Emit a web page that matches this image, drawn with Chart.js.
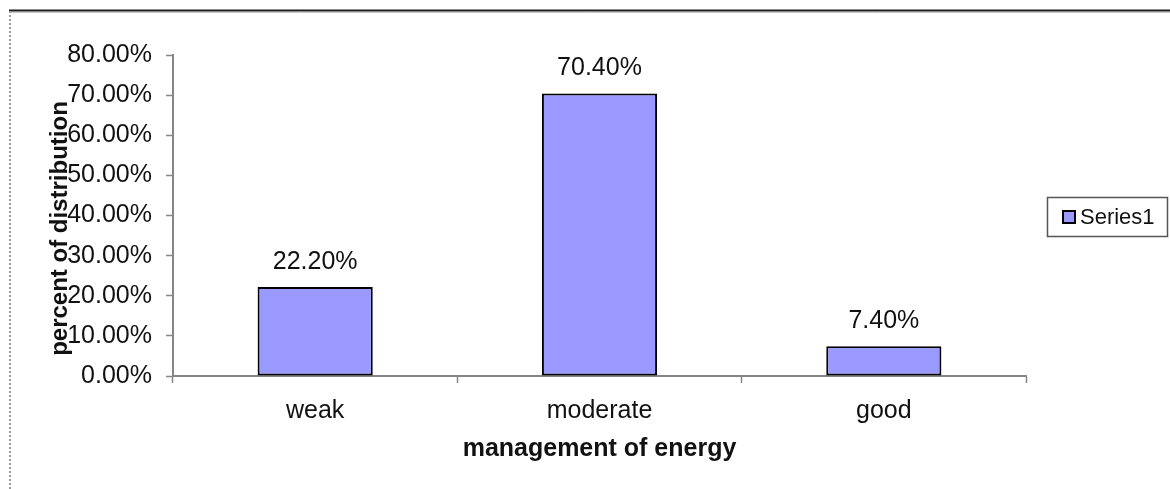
<!DOCTYPE html>
<html>
<head>
<meta charset="utf-8">
<script src="https://cdn.jsdelivr.net/npm/chart.js@4/dist/chart.umd.min.js"></script>
<style>
  html, body { margin: 0; padding: 0; background: #ffffff; }
  #wrap { position: relative; width: 1170px; height: 489px; }
  canvas { display: block; }
</style>
</head>
<body>
<div id="wrap"><canvas id="c" width="1170" height="489"></canvas></div>
<script>
// Distribution of energy-management levels
const categories = ['weak', 'moderate', 'good'];
const seriesName = 'Series1';
const percentValues = [22.2, 70.4, 7.4];
const yTickStep = 10;
const yMax = 80;

const FONT = 'Arial, "Liberation Sans", Helvetica, sans-serif';
const TEXT = '#111111';
const AXIS = '#868686';
const BAR_FILL = '#9999FF';

const fmtPct = v => Number(v).toFixed(2) + '%';

// Page frame: solid rule along the top, dotted rule down the left side
const framePlugin = {
  id: 'frame',
  beforeDraw(chart) {
    const ctx = chart.ctx;
    ctx.save();
    ctx.fillStyle = '#ffffff';
    ctx.fillRect(0, 0, chart.width, chart.height);
    ctx.strokeStyle = '#1a1a1a';
    ctx.lineWidth = 2;
    ctx.beginPath();
    ctx.moveTo(9, 10.5);
    ctx.lineTo(chart.width, 10.5);
    ctx.stroke();
    ctx.strokeStyle = '#c4c4c4';
    ctx.lineWidth = 1;
    ctx.beginPath();
    ctx.moveTo(9, 12.5);
    ctx.lineTo(chart.width, 12.5);
    ctx.stroke();
    ctx.strokeStyle = '#9a9a9a';
    ctx.lineWidth = 2;
    ctx.setLineDash([2, 2]);
    ctx.beginPath();
    ctx.moveTo(10, 11);
    ctx.lineTo(10, chart.height);
    ctx.stroke();
    ctx.restore();
  }
};

// Value labels above each bar
const valueLabelPlugin = {
  id: 'valueLabels',
  afterDatasetsDraw(chart) {
    const ctx = chart.ctx;
    const meta = chart.getDatasetMeta(0);
    const data = chart.data.datasets[0].data;
    ctx.save();
    ctx.font = '25px ' + FONT;
    ctx.fillStyle = TEXT;
    ctx.textAlign = 'center';
    ctx.textBaseline = 'middle';
    meta.data.forEach((bar, i) => {
      ctx.fillText(Number(data[i]).toFixed(2) + '%', bar.x, bar.y - 25);
    });
    ctx.restore();
  }
};

// Rotated y-axis title and boxed legend to the right of the plot
const sideTextPlugin = {
  id: 'sideText',
  afterDraw(chart) {
    const ctx = chart.ctx;
    const area = chart.chartArea;
    ctx.save();
    // y-axis title
    ctx.font = 'bold 24px ' + FONT;
    ctx.fillStyle = TEXT;
    ctx.textAlign = 'center';
    ctx.textBaseline = 'middle';
    ctx.translate(60, (area.top + area.bottom) / 2 + 13);
    ctx.rotate(-Math.PI / 2);
    ctx.fillText('percent of distribution', 0, 0);
    ctx.restore();

    // legend
    const ds = chart.data.datasets[0];
    const bx = area.right + 21, by = 197, bw = 120, bh = 39;
    ctx.save();
    ctx.fillStyle = '#ffffff';
    ctx.fillRect(bx, by, bw, bh);
    ctx.strokeStyle = '#555555';
    ctx.lineWidth = 1.5;
    ctx.strokeRect(bx + 0.5, by + 0.5, bw, bh);
    ctx.fillStyle = ds.backgroundColor;
    ctx.fillRect(bx + 16, by + 14, 12, 12);
    ctx.strokeStyle = '#000000';
    ctx.lineWidth = 2;
    ctx.strokeRect(bx + 16, by + 14, 12, 12);
    ctx.font = '22px ' + FONT;
    ctx.fillStyle = TEXT;
    ctx.textAlign = 'left';
    ctx.textBaseline = 'middle';
    ctx.fillText(ds.label, bx + 33, by + 21);
    ctx.restore();
  }
};

new Chart(document.getElementById('c'), {
  type: 'bar',
  data: {
    labels: categories,
    datasets: [{
      label: seriesName,
      data: percentValues,
      backgroundColor: BAR_FILL,
      borderColor: '#000000',
      borderWidth: 2,
      borderSkipped: false,
      categoryPercentage: 1.0,
      barPercentage: 0.405
    }]
  },
  options: {
    responsive: false,
    animation: false,
    devicePixelRatio: 1,
    layout: { padding: { top: 55, right: 144, bottom: 0, left: 0 } },
    plugins: {
      legend: { display: false },
      tooltip: { enabled: false },
      title: { display: false }
    },
    scales: {
      x: {
        grid: {
          display: true,
          offset: true,
          drawOnChartArea: false,
          drawTicks: true,
          tickLength: 7,
          tickWidth: 1.5,
          tickColor: AXIS
        },
        border: { display: true, color: AXIS, width: 2 },
        ticks: {
          color: TEXT,
          font: { family: FONT, size: 25 },
          padding: 13,
          maxRotation: 0
        },
        title: {
          display: true,
          text: 'management of energy',
          color: TEXT,
          font: { family: FONT, size: 25, weight: 'bold' },
          padding: { top: 0, bottom: 25 }
        },
        afterFit(scale) { scale.height = 113; }
      },
      y: {
        min: 0,
        max: yMax,
        grid: {
          display: true,
          drawOnChartArea: false,
          drawTicks: true,
          tickLength: 7,
          tickWidth: 1.5,
          tickColor: AXIS
        },
        border: { display: true, color: AXIS, width: 2 },
        ticks: {
          stepSize: yTickStep,
          color: TEXT,
          font: { family: FONT, size: 25 },
          padding: 14,
          callback: v => fmtPct(v)
        },
        afterFit(scale) { scale.width = 173; }
      }
    }
  },
  plugins: [framePlugin, valueLabelPlugin, sideTextPlugin]
});
</script>
</body>
</html>
